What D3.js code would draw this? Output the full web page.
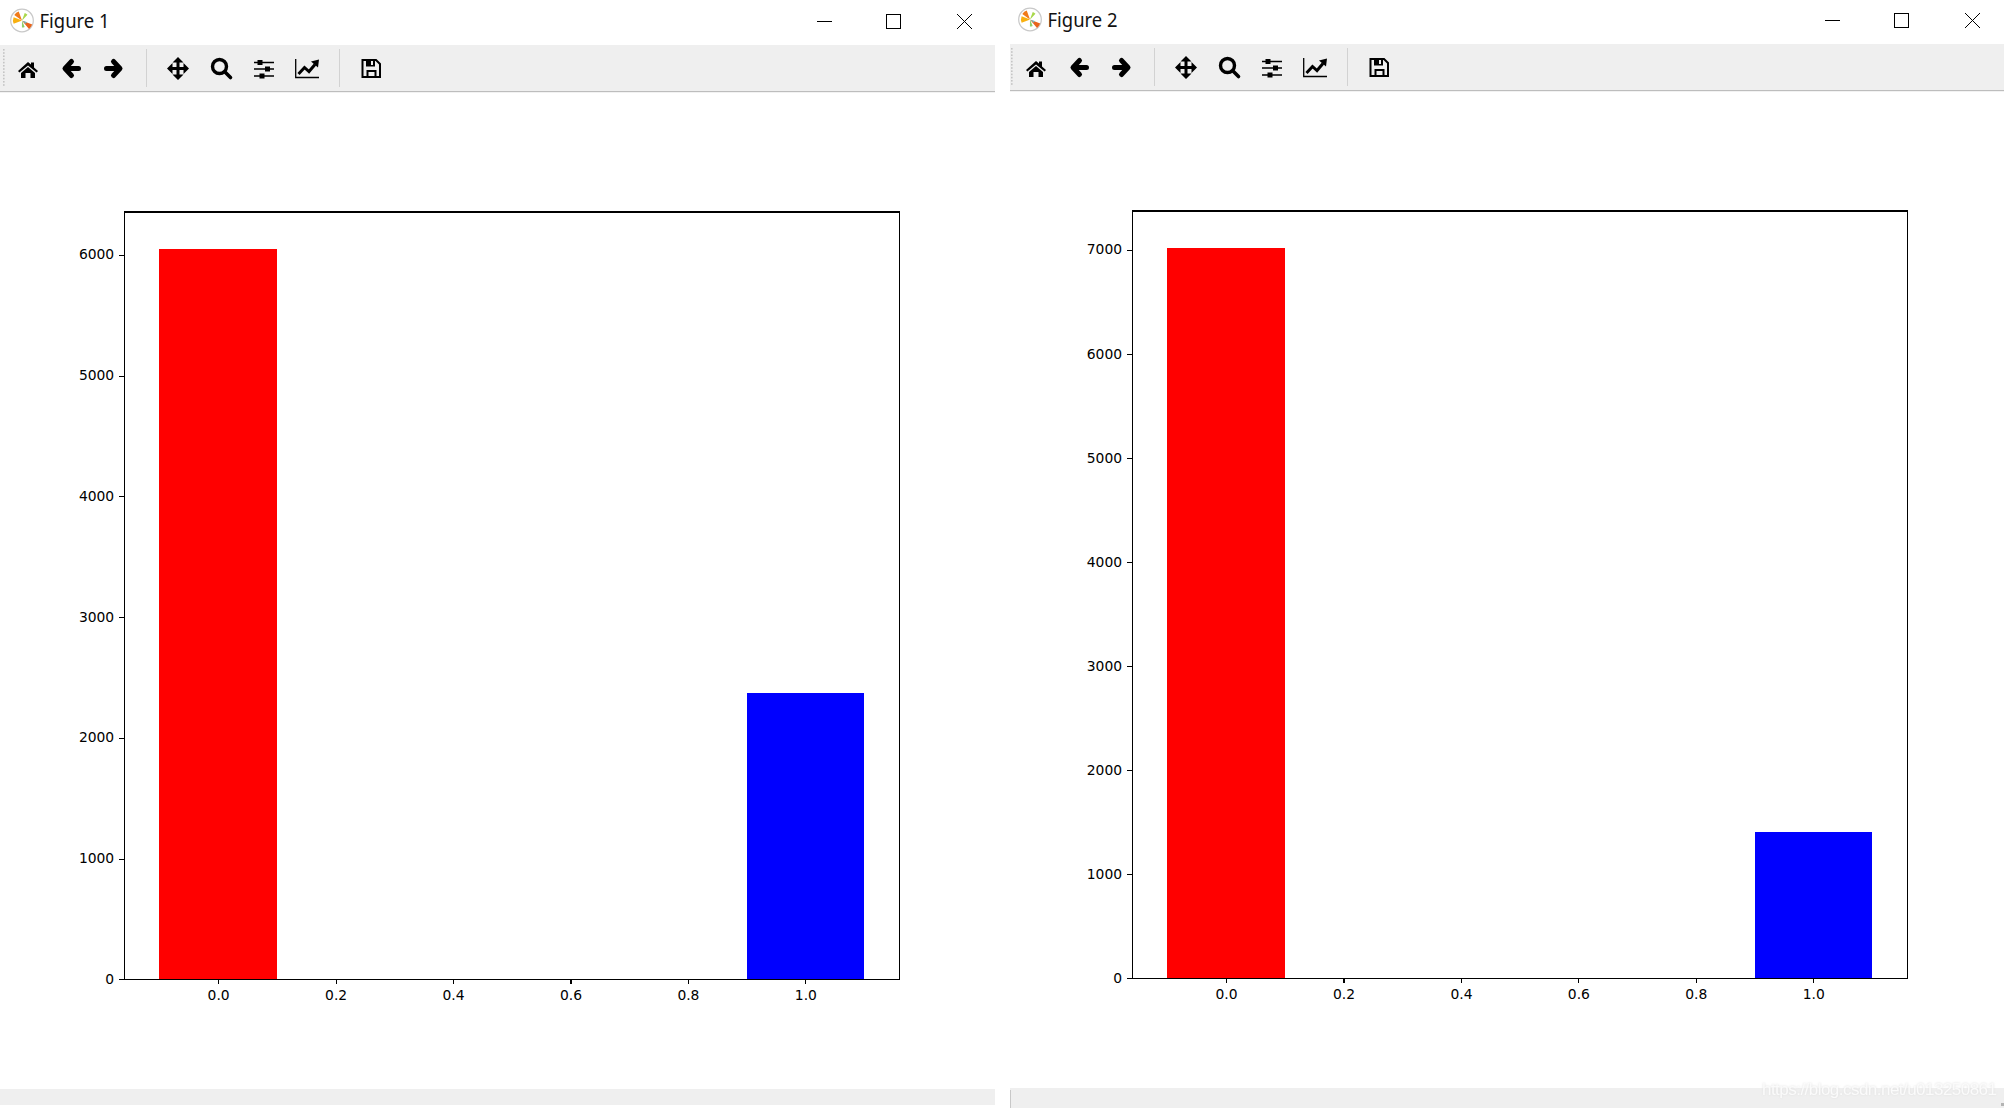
<!DOCTYPE html>
<html>
<head>
<meta charset="utf-8">
<script src="https://d3js.org/d3.v7.min.js"></script>
<style>
html,body{margin:0;padding:0;background:#fff;overflow:hidden}
svg{display:block}
.tick text{font-family:"DejaVu Sans",sans-serif;font-size:13.89px;fill:#000}
</style>
</head>
<body>
<svg id="c" width="2004" height="1108" viewBox="0 0 2004 1108"></svg>
<script>
const figureTitles = ["Figure 1", "Figure 2"];
const barPositions = [0, 1];
const barColors = ["#ff0000", "#0000ff"];
const figure1Values = [6052, 2369];
const figure2Values = [7022, 1405];
const xTickValues = [0, 0.2, 0.4, 0.6, 0.8, 1.0];
const figure1YTicks = [0, 1000, 2000, 3000, 4000, 5000, 6000];
const figure2YTicks = [0, 1000, 2000, 3000, 4000, 5000, 6000, 7000];
const xDomain = [-0.16, 1.16];
const barWidth = 0.2;
const watermark = "https://blog.csdn.net/u013250861";

const svg = d3.select("#c");
const defs = svg.append("defs");
defs.append("filter").attr("id", "wm").attr("x", "-5%").attr("y", "-50%").attr("width", "110%").attr("height", "200%")
  .append("feGaussianBlur").attr("stdDeviation", 0.8);
defs.append("filter").attr("id", "wm2").attr("x", "-5%").attr("y", "-50%").attr("width", "110%").attr("height", "200%")
  .append("feGaussianBlur").attr("stdDeviation", 0.35);

svg.append("rect").attr("width", 2004).attr("height", 1108).attr("fill", "#fff");

function chrome(g, title, barLeft, barRight, statusBottom) {
  // title-bar logo
  const logo = g.append("g").attr("transform", "translate(22,20.5)");
  logo.append("circle").attr("r", 11.3).attr("fill", "#fff").attr("stroke", "#c8c8c8").attr("stroke-width", 1.2);
  const arc = d3.arc();
  const wedges = [
    [-0.95, -0.35, 9.5, "#f07a1a"],
    [-1.95, -1.2, 9, "#f8b010"],
    [1.95, 2.45, 11, "#e8641c"],
    [0.35, 0.75, 8, "#a8d84a"],
    [2.75, 3.15, 7, "#8ecf6a"],
    [1.9, 2.3, 5, "#70b8c8"]
  ];
  wedges.forEach(w => logo.append("path")
    .attr("d", arc({innerRadius: 0.5, outerRadius: w[2], startAngle: w[0], endAngle: w[1]}))
    .attr("fill", w[3]));

  g.append("text").attr("x", 39.5).attr("y", 28)
    .attr("font-family", "'Noto Sans',sans-serif").attr("font-size", 20)
    .attr("textLength", 70).attr("lengthAdjust", "spacingAndGlyphs")
    .attr("fill", "#111").text(title);

  // window buttons
  const wb = g.append("g").attr("fill", "none").attr("stroke", "#000").attr("stroke-width", 1);
  wb.append("path").attr("d", "M817,21.5H832");
  wb.append("rect").attr("x", 886.5).attr("y", 14.5).attr("width", 14).attr("height", 14);
  wb.append("path").attr("d", "M957,14L972,29M972,14L957,29");

  // toolbar
  g.append("rect").attr("x", barLeft).attr("y", 45).attr("width", barRight - barLeft).attr("height", 46).attr("fill", "#efefef");
  g.append("rect").attr("x", barLeft).attr("y", 91).attr("width", barRight - barLeft).attr("height", 1.2).attr("fill", "#bdbdbd");
  for (let y = 49; y < 87; y += 3.2) {
    g.append("rect").attr("x", 3).attr("y", y).attr("width", 1.6).attr("height", 1.6).attr("fill", "#c4c4c4");
  }
  [146, 339].forEach(x => g.append("rect").attr("x", x).attr("y", 49).attr("width", 1).attr("height", 38).attr("fill", "#d2d2d2"));

  const k = "#000";
  // home
  g.append("path").attr("fill", k).attr("d", "M18,71L28,62L31,64.6V62.6H34V67.6L38,71L36.6,72.6L28,65.6L19.4,72.6ZM21,73L28,67L35,73V78H30.5V73H25.5V78H21Z");
  // back & forward
  g.append("path").attr("fill", "none").attr("stroke", k).attr("stroke-width", 5).attr("stroke-linejoin", "round").attr("stroke-linecap", "round")
    .attr("d", "M78.5,68.5H67M71.5,61.5L65,68.5L71.5,75.5");
  g.append("path").attr("fill", "none").attr("stroke", k).attr("stroke-width", 5).attr("stroke-linejoin", "round").attr("stroke-linecap", "round")
    .attr("d", "M106.5,68.5H118M113.5,61.5L120,68.5L113.5,75.5");
  // move
  g.append("path").attr("fill", "none").attr("stroke", k).attr("stroke-width", 3).attr("d", "M171,68.5H185M178,61.5V75.5");
  g.append("path").attr("fill", k).attr("d", "M167,68.5L172.5,63V74ZM189,68.5L183.5,63V74ZM178,57L172.5,62.5H183.5ZM178,80L172.5,74.5H183.5Z");
  // zoom
  g.append("circle").attr("cx", 219.5).attr("cy", 66.5).attr("r", 7).attr("fill", "none").attr("stroke", k).attr("stroke-width", 3.4);
  g.append("path").attr("stroke", k).attr("stroke-width", 3.6).attr("stroke-linecap", "round").attr("d", "M225,72L230.5,77.5");
  // sliders
  g.append("path").attr("stroke", k).attr("stroke-width", 1.6).attr("d", "M254,62.5H274M254,69H274M254,76H274");
  g.append("path").attr("fill", k).attr("d", "M257.5,60h5v5h-5zM265,66.5h5v5h-5zM259.5,73.5h5v5h-5z");
  // graph
  g.append("path").attr("fill", "none").attr("stroke", k).attr("stroke-width", 1.3).attr("d", "M295.7,59V77.5H319");
  g.append("path").attr("fill", "none").attr("stroke", k).attr("stroke-width", 3).attr("d", "M298.5,74L304.5,67.5L309,71.5L315,64.5");
  g.append("path").attr("fill", k).attr("d", "M319,59.5L318,67.5L311,61.5Z");
  // save
  g.append("path").attr("fill", "none").attr("stroke", k).attr("stroke-width", 2).attr("d", "M362.5,60H376L380,64V77H362.5Z");
  g.append("path").attr("fill", k).attr("d", "M366,60H375V66.5H366ZM366.5,70H376.5V77H374.5V72H368.5V77H366.5Z");
  g.append("rect").attr("x", 371).attr("y", 61).attr("width", 2).attr("height", 4).attr("fill", "#efefef");

  // status bar
  g.append("rect").attr("x", barLeft).attr("y", 1089).attr("width", barRight - barLeft).attr("height", statusBottom - 1089).attr("fill", "#efefef");
}

function chart(frame, values, yTicks) {
  const x = d3.scaleLinear().domain(xDomain).range([frame.left, frame.right]);
  const y = d3.scaleLinear().domain([0, d3.max(values) * 1.05]).range([frame.bottom, frame.top]);
  const g = svg.append("g");

  g.selectAll("rect.bar").data(values).join("rect").attr("class", "bar")
    .attr("x", (d, i) => x(barPositions[i] - barWidth / 2))
    .attr("width", (d, i) => x(barPositions[i] + barWidth / 2) - x(barPositions[i] - barWidth / 2))
    .attr("y", d => y(d))
    .attr("height", d => y(0) - y(d))
    .attr("fill", (d, i) => barColors[i])
    .attr("shape-rendering", "crispEdges");

  const xAxis = g.append("g").attr("transform", `translate(0,${frame.bottom})`)
    .call(d3.axisBottom(x).tickValues(xTickValues).tickFormat(d3.format(".1f")).tickSize(5).tickPadding(5.5));
  const yAxis = g.append("g").attr("transform", `translate(${frame.left},0)`)
    .call(d3.axisLeft(y).tickValues(yTicks).tickFormat(d3.format("d")).tickSize(5).tickPadding(5));
  [xAxis, yAxis].forEach(a => {
    a.attr("font-family", null).attr("font-size", null);
    a.select(".domain").remove();
    a.selectAll(".tick line").attr("stroke", "#000").attr("stroke-width", 1.1).attr("shape-rendering", "crispEdges");
  });
  yAxis.selectAll(".tick text").attr("dy", "0.3em");

  g.append("rect").attr("x", frame.left).attr("y", frame.top)
    .attr("width", frame.right - frame.left).attr("height", frame.bottom - frame.top)
    .attr("fill", "none").attr("stroke", "#000").attr("stroke-width", 1.1).attr("shape-rendering", "crispEdges");
}

chrome(svg.append("g"), figureTitles[0], 0, 995, 1105);
chrome(svg.append("g").attr("transform", "translate(1008,-1)"), figureTitles[1], 2, 996, 1110);
svg.append("rect").attr("x", 1010).attr("y", 1090).attr("width", 1).attr("height", 18).attr("fill", "#c8c8c8");

chart({left: 124.2, right: 899.3, top: 212, bottom: 979.3}, figure1Values, figure1YTicks);
chart({left: 1132.1, right: 1907.2, top: 211, bottom: 978.3}, figure2Values, figure2YTicks);

// resize grip and watermark
svg.append("rect").attr("x", 2001).attr("y", 1103).attr("width", 3).attr("height", 3).attr("fill", "#b4b4b4");
const wm = svg.append("g").attr("font-family", "'Liberation Sans',Arial,sans-serif").attr("font-size", 17);
wm.append("text").attr("x", 1762).attr("y", 1095).attr("textLength", 235).attr("fill", "#dedede").attr("filter", "url(#wm)").text(watermark);
wm.append("text").attr("x", 1762).attr("y", 1095).attr("textLength", 235).attr("fill", "#fbfbfb").attr("filter", "url(#wm2)").text(watermark);
</script>
</body>
</html>
